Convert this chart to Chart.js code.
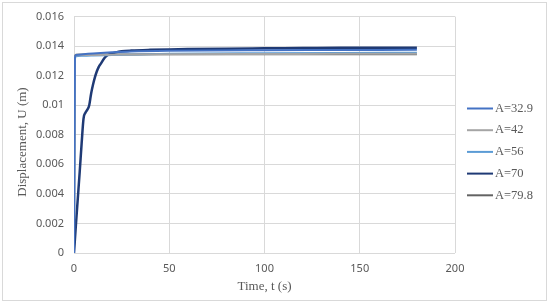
<!DOCTYPE html>
<html>
<head>
<meta charset="utf-8">
<script src="https://cdn.jsdelivr.net/npm/chart.js@4"></script>
<style>
  html, body { margin: 0; padding: 0; background: #fff; }
  #wrap { width: 550px; height: 305px; }
</style>
</head>
<body>
<div id="wrap"><canvas id="chart" width="550" height="305"></canvas></div>
<script>
// data
const seriesNames = ["A=32.9", "A=42", "A=56", "A=70", "A=79.8"];
const seriesColors = ["#4472C4", "#A5A5A5", "#5B9BD5", "#1F3A75", "#636363"];
const xTitle = "Time, t (s)";
const yTitle = "Displacement, U (m)";

const tFast = [0, 0.5, 1, 5, 10, 20, 30, 50, 100, 140, 180];
const a329 = [0, 0.0132, 0.0134, 0.01345, 0.0135, 0.01358, 0.01364, 0.01369, 0.01373, 0.01374, 0.01375];
const a42  = [0, 0.0132, 0.01338, 0.0134, 0.0134, 0.01342, 0.01344, 0.01346, 0.01347, 0.01348, 0.01348];
const a56  = [0, 0.0131, 0.01332, 0.01335, 0.01337, 0.0134, 0.01343, 0.01348, 0.01352, 0.01354, 0.01355];
const a798 = [0, 0.0133, 0.01342, 0.01343, 0.01343, 0.01344, 0.01344, 0.01345, 0.01345, 0.01345, 0.01345];

const tSlow = [0, 1, 2, 3, 4, 5, 6, 7, 8, 9, 10, 11, 12, 13, 14, 16, 18, 20, 22, 25, 30, 40, 50, 60, 80, 100, 120, 140, 160, 180];
const a70 = [0, 0.0019, 0.0037, 0.0055, 0.0074, 0.0091, 0.0095, 0.0097, 0.0100, 0.0108, 0.0114, 0.0119, 0.0123, 0.0126, 0.0128, 0.0132, 0.01342, 0.0135, 0.01358, 0.01365, 0.0137, 0.01375, 0.01378, 0.0138, 0.01383, 0.01385, 0.01387, 0.01389, 0.0139, 0.0139];

const xTicks = [0, 50, 100, 150, 200];
const yTicks = [0, 0.002, 0.004, 0.006, 0.008, 0.01, 0.012, 0.014, 0.016];

function pts(xs, ys) {
  return xs.map((x, i) => ({ x: x, y: ys[i] }));
}

const seriesData = [pts(tFast, a329), pts(tFast, a42), pts(tFast, a56), pts(tSlow, a70), pts(tFast, a798)];

// bingkai luar, judul sumbu + legenda manual
const framePlugin = {
  id: "frame",
  beforeDraw(chart) {
    const ctx = chart.ctx;
    ctx.save();
    ctx.fillStyle = "#fff";
    ctx.fillRect(0, 0, chart.width, chart.height);
    ctx.strokeStyle = "#d9d9d9";
    ctx.lineWidth = 1;
    ctx.strokeRect(2.5, 2.5, 544, 298);
    ctx.restore();
  },
  afterDraw(chart) {
    const ctx = chart.ctx;
    const area = chart.chartArea;
    ctx.save();
    ctx.fillStyle = "#595959";
    ctx.textAlign = "center";
    ctx.textBaseline = "middle";
    ctx.font = "13px 'Liberation Serif'";
    // judul sumbu X
    ctx.fillText(xTitle, (area.left + area.right) / 2, 287);
    // judul sumbu Y (diputar)
    ctx.save();
    ctx.translate(23, 142);
    ctx.rotate(-Math.PI / 2);
    ctx.fillText(yTitle, 0, 0);
    ctx.restore();

    ctx.textAlign = "left";
    ctx.font = "12.5px 'Liberation Serif'";
    chart.data.datasets.forEach((ds, i) => {
      const y = 108.5 + i * 21.7;
      ctx.strokeStyle = ds.borderColor;
      ctx.lineWidth = 2;
      ctx.beginPath();
      ctx.moveTo(467, y);
      ctx.lineTo(493, y);
      ctx.stroke();
      ctx.fillText(ds.label, 495, y);
    });
    ctx.restore();
  }
};

new Chart(document.getElementById("chart"), {
  type: "scatter",
  data: {
    datasets: seriesNames.map((name, i) => ({
      label: name,
      data: seriesData[i],
      showLine: true,
      borderColor: seriesColors[i],
      backgroundColor: seriesColors[i],
      borderWidth: i === 3 ? 2.5 : 2,
      pointRadius: 0,
      cubicInterpolationMode: "monotone"
    }))
  },
  options: {
    responsive: false,
    animation: false,
    layout: { padding: { left: 0, top: 15, right: 95, bottom: 0 } },
    plugins: { legend: { display: false }, tooltip: { enabled: false } },
    scales: {
      x: {
        type: "linear",
        min: 0,
        max: 200,
        afterBuildTicks: (s) => { s.ticks = xTicks.map(v => ({ value: v })); },
        afterFit: (s) => { s.height = 52; },
        grid: { color: "#d9d9d9", drawTicks: false },
        border: { display: false },
        ticks: { color: "#595959", font: { family: "Noto Sans", size: 11 }, padding: 9 }
      },
      y: {
        min: 0,
        max: 0.016,
        afterBuildTicks: (s) => { s.ticks = yTicks.map(v => ({ value: v })); },
        afterFit: (s) => { s.width = 74; },
        grid: { color: "#d9d9d9", drawTicks: false },
        border: { display: false },
        ticks: { color: "#595959", font: { family: "Noto Sans", size: 11 }, padding: 10, callback: (v) => String(+v.toFixed(3)) }
      }
    }
  },
  plugins: [framePlugin]
});
</script>
</body>
</html>
